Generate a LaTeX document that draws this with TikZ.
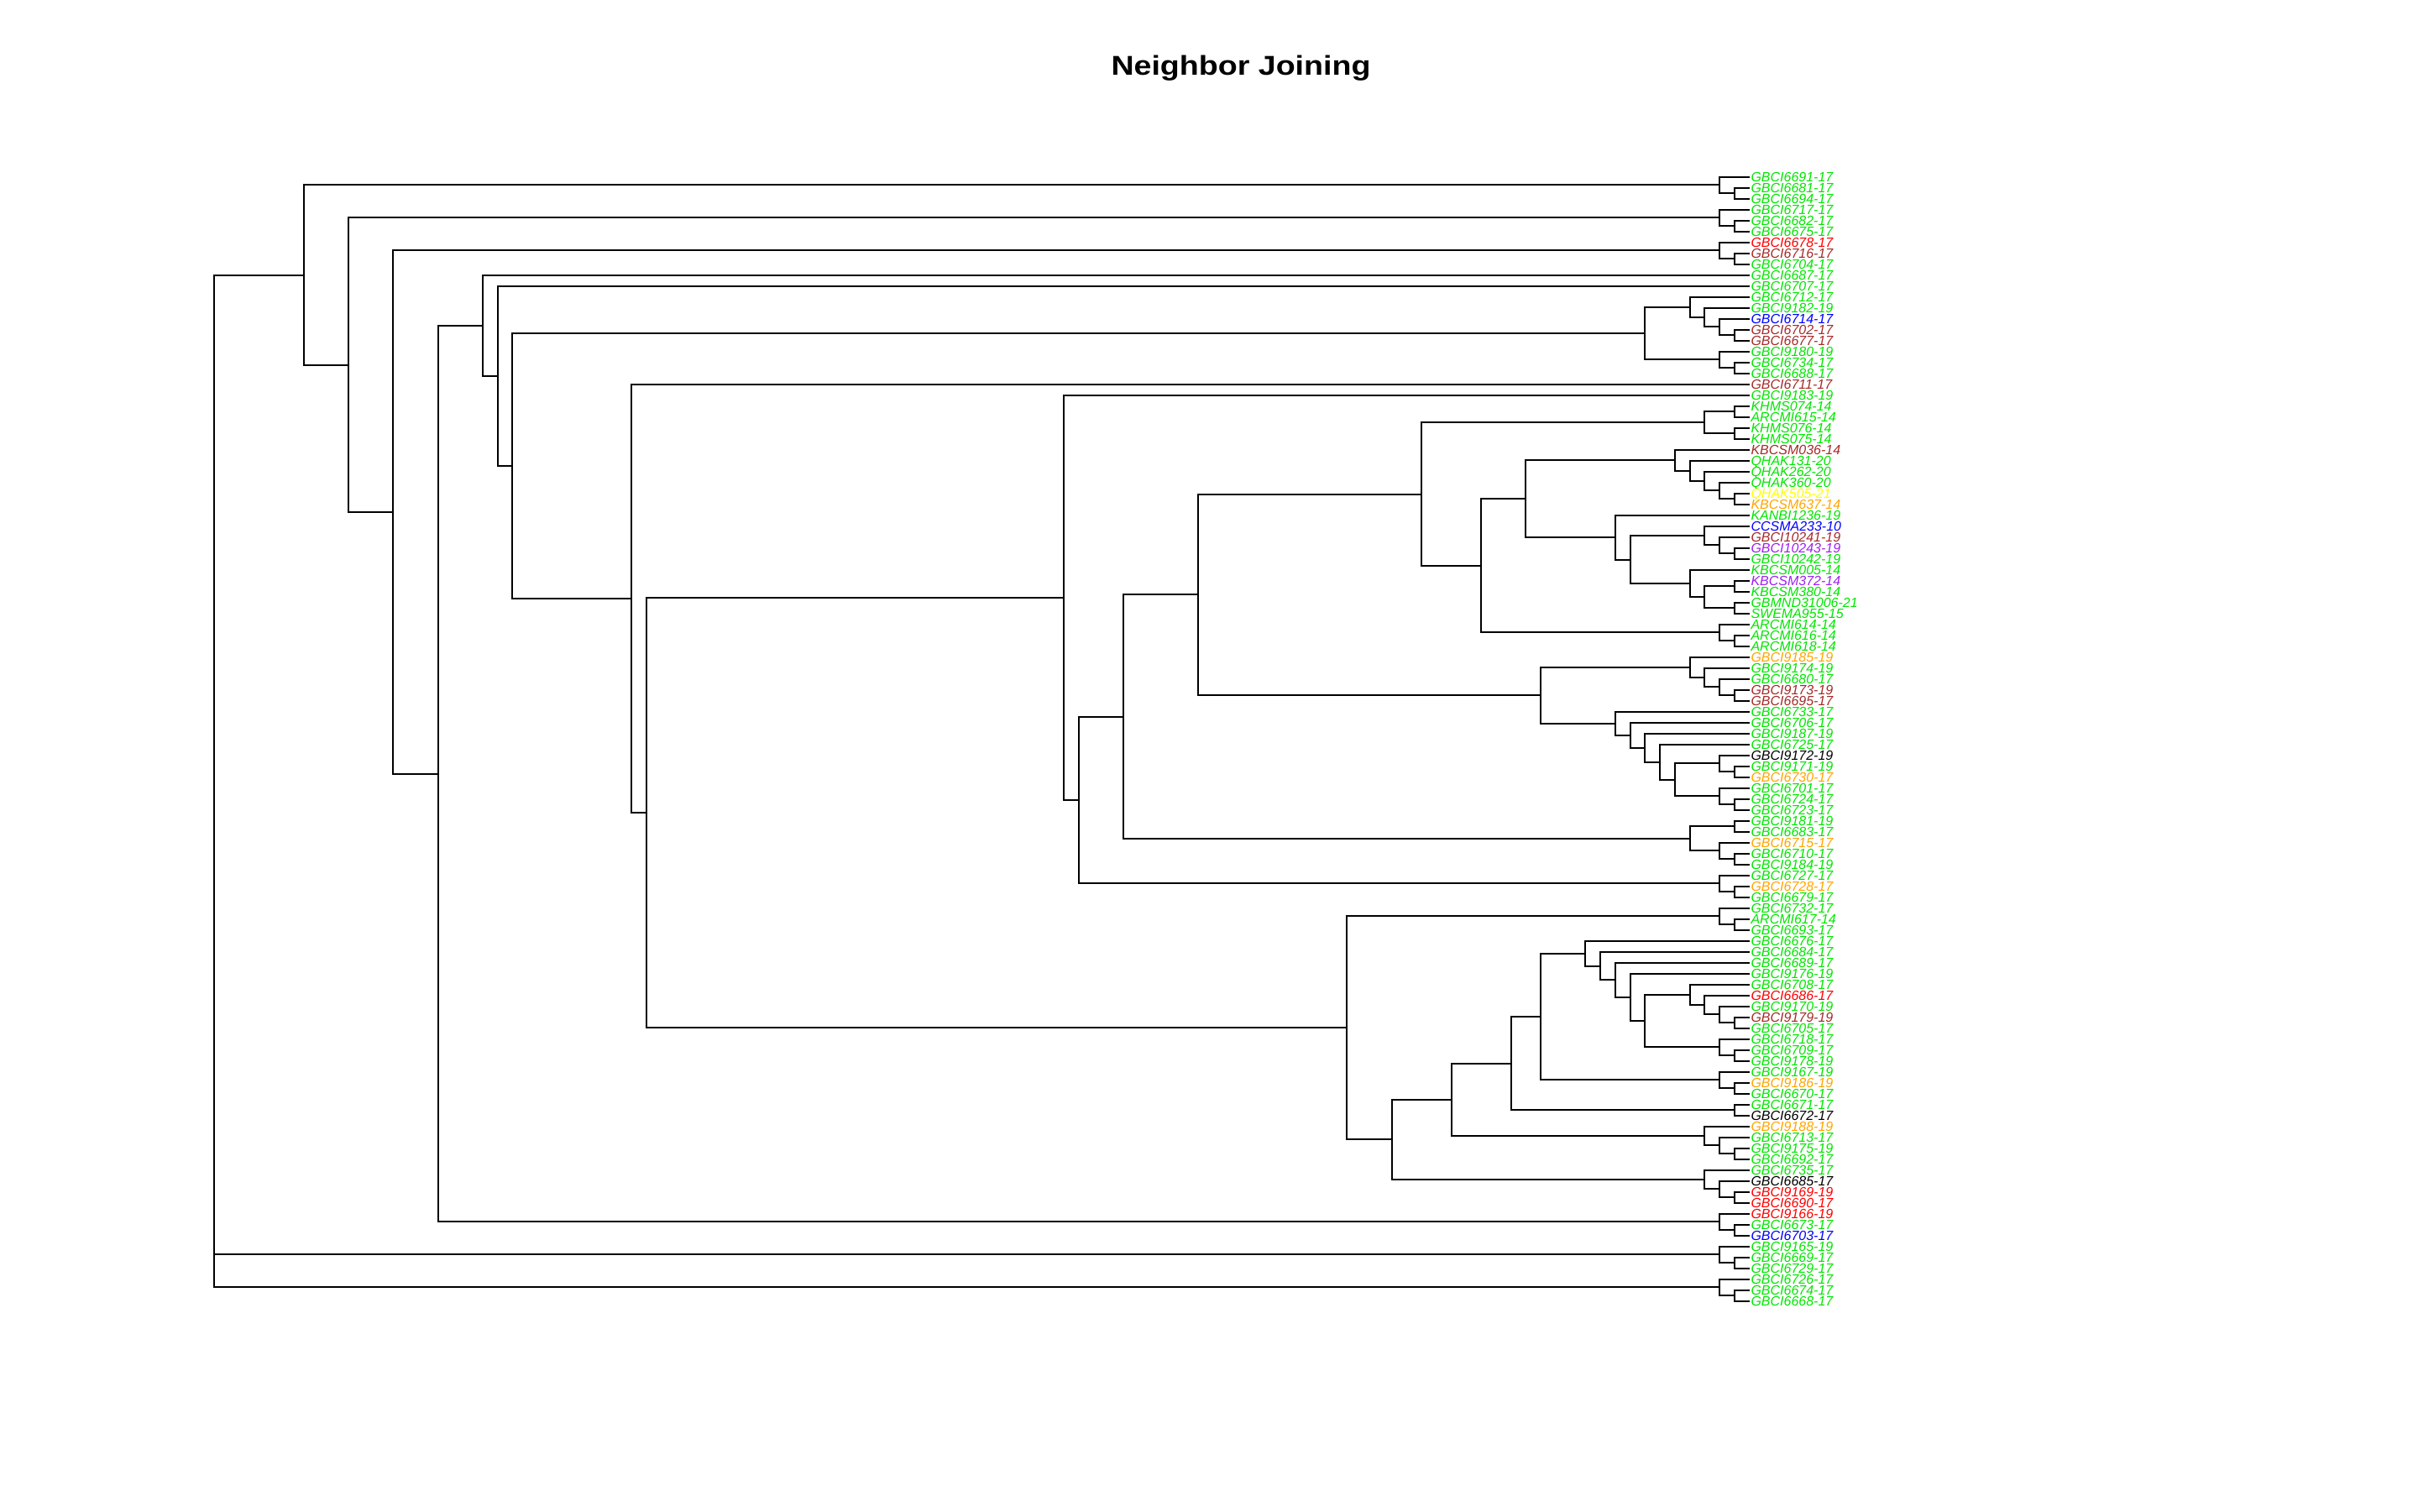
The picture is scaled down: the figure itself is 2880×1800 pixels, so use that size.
\documentclass[tikz,border=0pt]{standalone}
\usepackage{fontspec}
\setmainfont{Liberation Sans}
\usetikzlibrary{calc}
\definecolor{cg}{HTML}{00E600}
\definecolor{cr}{HTML}{FF0000}
\definecolor{cbr}{HTML}{A52A2A}
\definecolor{cb}{HTML}{0000FF}
\definecolor{cy}{HTML}{FFFF00}
\definecolor{co}{HTML}{FFA500}
\definecolor{cp}{HTML}{A020F0}
\definecolor{ck}{HTML}{000000}
\tikzset{
  branch/.style={draw=black, line width=0.5pt, line join=miter},
  lbl/.style={anchor=base west, inner sep=0pt, outer sep=0pt,
    font=\fontsize{4pt}{4pt}\selectfont\itshape},
  ttl/.style={anchor=base, inner sep=0pt,
    font=\fontsize{8.1pt}{8.1pt}\selectfont\bfseries}
}
\newcommand\clade[4]{%
  \coordinate (xr) at ({2083.6-17.75*#4},0);
  \coordinate (mm) at ($(#2)!0.5!(#3)$);
  \coordinate (#1) at (mm -| xr);
  \draw[branch] (#2) -| (xr |- #3) -- (#3);
}
\begin{document}
\begin{tikzpicture}[x=0.25pt, y=-0.25pt]
\useasboundingbox (0,0) rectangle (2880,1800);
\node[ttl] (title) at (1478,89) {\scalebox{1.16}[1]{Neighbor Joining}};
\foreach \i/\t/\c in {
1/GBCI6691-17/cg, 2/GBCI6681-17/cg, 3/GBCI6694-17/cg, 4/GBCI6717-17/cg,
5/GBCI6682-17/cg, 6/GBCI6675-17/cg, 7/GBCI6678-17/cr, 8/GBCI6716-17/cbr,
9/GBCI6704-17/cg, 10/GBCI6687-17/cg, 11/GBCI6707-17/cg, 12/GBCI6712-17/cg,
13/GBCI9182-19/cg, 14/GBCI6714-17/cb, 15/GBCI6702-17/cbr, 16/GBCI6677-17/cbr,
17/GBCI9180-19/cg, 18/GBCI6734-17/cg, 19/GBCI6688-17/cg, 20/GBCI6711-17/cbr,
21/GBCI9183-19/cg, 22/KHMS074-14/cg, 23/ARCMI615-14/cg, 24/KHMS076-14/cg,
25/KHMS075-14/cg, 26/KBCSM036-14/cbr, 27/QHAK131-20/cg, 28/QHAK262-20/cg,
29/QHAK360-20/cg, 30/QHAK505-21/cy, 31/KBCSM637-14/co, 32/KANBI1236-19/cg,
33/CCSMA233-10/cb, 34/GBCI10241-19/cbr, 35/GBCI10243-19/cp, 36/GBCI10242-19/cg,
37/KBCSM005-14/cg, 38/KBCSM372-14/cp, 39/KBCSM380-14/cg, 40/GBMND31006-21/cg,
41/SWEMA955-15/cg, 42/ARCMI614-14/cg, 43/ARCMI616-14/cg, 44/ARCMI618-14/cg,
45/GBCI9185-19/co, 46/GBCI9174-19/cg, 47/GBCI6680-17/cg, 48/GBCI9173-19/cbr,
49/GBCI6695-17/cbr, 50/GBCI6733-17/cg, 51/GBCI6706-17/cg, 52/GBCI9187-19/cg,
53/GBCI6725-17/cg, 54/GBCI9172-19/ck, 55/GBCI9171-19/cg, 56/GBCI6730-17/co,
57/GBCI6701-17/cg, 58/GBCI6724-17/cg, 59/GBCI6723-17/cg, 60/GBCI9181-19/cg,
61/GBCI6683-17/cg, 62/GBCI6715-17/co, 63/GBCI6710-17/cg, 64/GBCI9184-19/cg,
65/GBCI6727-17/cg, 66/GBCI6728-17/co, 67/GBCI6679-17/cg, 68/GBCI6732-17/cg,
69/ARCMI617-14/cg, 70/GBCI6693-17/cg, 71/GBCI6676-17/cg, 72/GBCI6684-17/cg,
73/GBCI6689-17/cg, 74/GBCI9176-19/cg, 75/GBCI6708-17/cg, 76/GBCI6686-17/cr,
77/GBCI9170-19/cg, 78/GBCI9179-19/cbr, 79/GBCI6705-17/cg, 80/GBCI6718-17/cg,
81/GBCI6709-17/cg, 82/GBCI9178-19/cg, 83/GBCI9167-19/cg, 84/GBCI9186-19/co,
85/GBCI6670-17/cg, 86/GBCI6671-17/cg, 87/GBCI6672-17/ck, 88/GBCI9188-19/co,
89/GBCI6713-17/cg, 90/GBCI9175-19/cg, 91/GBCI6692-17/cg, 92/GBCI6735-17/cg,
93/GBCI6685-17/ck, 94/GBCI9169-19/cr, 95/GBCI6690-17/cr, 96/GBCI9166-19/cr,
97/GBCI6673-17/cg, 98/GBCI6703-17/cb, 99/GBCI9165-19/cg, 100/GBCI6669-17/cg,
101/GBCI6729-17/cg, 102/GBCI6726-17/cg, 103/GBCI6674-17/cg, 104/GBCI6668-17/cg}{
  \coordinate (l\i) at (2083.6,{210.7+13*(\i-1)});
  \node[lbl, text=\c] (t\i) at (2085.5,{216.5+13*(\i-1)}) {\t};
}
% group 1-3
\clade{n2t3}{l2}{l3}{1}
\clade{n1t3}{l1}{n2t3}{2}
% group 4-6
\clade{n5t6}{l5}{l6}{1}
\clade{n4t6}{l4}{n5t6}{2}
% group 7-9
\clade{n8t9}{l8}{l9}{1}
\clade{n7t9}{l7}{n8t9}{2}
% group 12-19
\clade{n15t16}{l15}{l16}{1}
\clade{n14t16}{l14}{n15t16}{2}
\clade{n13t16}{l13}{n14t16}{3}
\clade{n12t16}{l12}{n13t16}{4}
\clade{n18t19}{l18}{l19}{1}
\clade{n17t19}{l17}{n18t19}{2}
\clade{n12t19}{n12t16}{n17t19}{7}
% group 22-25
\clade{n22t23}{l22}{l23}{1}
\clade{n24t25}{l24}{l25}{1}
\clade{n22t25}{n22t23}{n24t25}{3}
% group 26-31
\clade{n30t31}{l30}{l31}{1}
\clade{n29t31}{l29}{n30t31}{2}
\clade{n28t31}{l28}{n29t31}{3}
\clade{n27t31}{l27}{n28t31}{4}
\clade{n26t31}{l26}{n27t31}{5}
% group 32-41
\clade{n35t36}{l35}{l36}{1}
\clade{n34t36}{l34}{n35t36}{2}
\clade{n33t36}{l33}{n34t36}{3}
\clade{n38t39}{l38}{l39}{1}
\clade{n40t41}{l40}{l41}{1}
\clade{n38t41}{n38t39}{n40t41}{3}
\clade{n37t41}{l37}{n38t41}{4}
\clade{n33t41}{n33t36}{n37t41}{8}
\clade{n32t41}{l32}{n33t41}{9}
\clade{n26t41}{n26t31}{n32t41}{15}
% group 42-44
\clade{n43t44}{l43}{l44}{1}
\clade{n42t44}{l42}{n43t44}{2}
\clade{n26t44}{n26t41}{n42t44}{18}
\clade{n22t44}{n22t25}{n26t44}{22}
% group 45-49
\clade{n48t49}{l48}{l49}{1}
\clade{n47t49}{l47}{n48t49}{2}
\clade{n46t49}{l46}{n47t49}{3}
\clade{n45t49}{l45}{n46t49}{4}
% group 50-59
\clade{n55t56}{l55}{l56}{1}
\clade{n54t56}{l54}{n55t56}{2}
\clade{n58t59}{l58}{l59}{1}
\clade{n57t59}{l57}{n58t59}{2}
\clade{n54t59}{n54t56}{n57t59}{5}
\clade{n53t59}{l53}{n54t59}{6}
\clade{n52t59}{l52}{n53t59}{7}
\clade{n51t59}{l51}{n52t59}{8}
\clade{n50t59}{l50}{n51t59}{9}
\clade{n45t59}{n45t49}{n50t59}{14}
\clade{n22t59}{n22t44}{n45t59}{37}
% group 60-64
\clade{n60t61}{l60}{l61}{1}
\clade{n63t64}{l63}{l64}{1}
\clade{n62t64}{l62}{n63t64}{2}
\clade{n60t64}{n60t61}{n62t64}{4}
\clade{n22t64}{n22t59}{n60t64}{42}
% group 65-67
\clade{n66t67}{l66}{l67}{1}
\clade{n65t67}{l65}{n66t67}{2}
\clade{n22t67}{n22t64}{n65t67}{45}
\clade{n21t67}{l21}{n22t67}{46}
% group 68-70
\clade{n69t70}{l69}{l70}{1}
\clade{n68t70}{l68}{n69t70}{2}
% group 71-82
\clade{n78t79}{l78}{l79}{1}
\clade{n77t79}{l77}{n78t79}{2}
\clade{n76t79}{l76}{n77t79}{3}
\clade{n75t79}{l75}{n76t79}{4}
\clade{n81t82}{l81}{l82}{1}
\clade{n80t82}{l80}{n81t82}{2}
\clade{n75t82}{n75t79}{n80t82}{7}
\clade{n74t82}{l74}{n75t82}{8}
\clade{n73t82}{l73}{n74t82}{9}
\clade{n72t82}{l72}{n73t82}{10}
\clade{n71t82}{l71}{n72t82}{11}
% group 83-85
\clade{n84t85}{l84}{l85}{1}
\clade{n83t85}{l83}{n84t85}{2}
\clade{n71t85}{n71t82}{n83t85}{14}
\clade{n86t87}{l86}{l87}{1}
\clade{n71t87}{n71t85}{n86t87}{16}
% group 88-91
\clade{n90t91}{l90}{l91}{1}
\clade{n89t91}{l89}{n90t91}{2}
\clade{n88t91}{l88}{n89t91}{3}
\clade{n71t91}{n71t87}{n88t91}{20}
% group 92-95
\clade{n94t95}{l94}{l95}{1}
\clade{n93t95}{l93}{n94t95}{2}
\clade{n92t95}{l92}{n93t95}{3}
\clade{n71t95}{n71t91}{n92t95}{24}
\clade{n68t95}{n68t70}{n71t95}{27}
\clade{n21t95}{n21t67}{n68t95}{74}
\clade{n20t95}{l20}{n21t95}{75}
\clade{n12t95}{n12t19}{n20t95}{83}
\clade{n11t95}{l11}{n12t95}{84}
\clade{n10t95}{l10}{n11t95}{85}
% group 96-98
\clade{n97t98}{l97}{l98}{1}
\clade{n96t98}{l96}{n97t98}{2}
\clade{n10t98}{n10t95}{n96t98}{88}
\clade{n7t98}{n7t9}{n10t98}{91}
\clade{n4t98}{n4t6}{n7t98}{94}
\clade{n1t98}{n1t3}{n4t98}{97}
% groups 99-101 and 102-104
\clade{n100t101}{l100}{l101}{1}
\clade{n99t101}{l99}{n100t101}{2}
\clade{n103t104}{l103}{l104}{1}
\clade{n102t104}{l102}{n103t104}{2}
% root (trifurcation)
\coordinate (xr) at ({2083.6-17.75*103},0);
\coordinate (root) at (xr |- n99t101);
\draw[branch] (n1t98) -| (xr |- n102t104) -- (n102t104);
\draw[branch] (root) -- (n99t101);
\end{tikzpicture}
\end{document}
